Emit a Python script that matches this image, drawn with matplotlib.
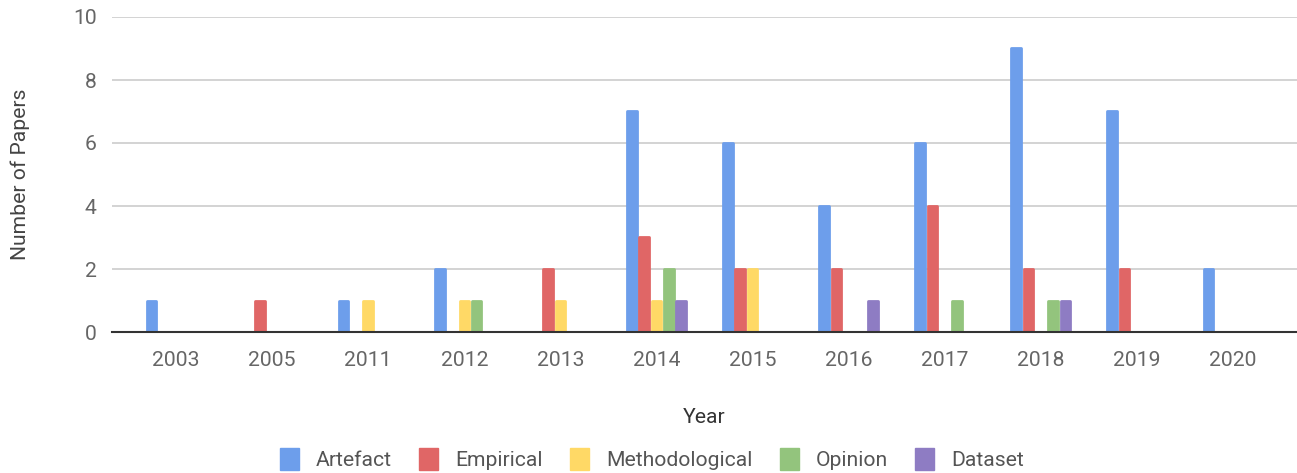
import matplotlib
matplotlib.use("Agg")
import matplotlib.pyplot as plt
import numpy as np
from matplotlib.patches import Patch

plt.rcParams['font.family'] = ['Roboto', 'DejaVu Sans']

years = ['2003', '2005', '2011', '2012', '2013', '2014', '2015', '2016', '2017', '2018', '2019', '2020']
series_names = ['Artefact', 'Empirical', 'Methodological', 'Opinion', 'Dataset']
artefact = [1, 0, 1, 2, 0, 7, 6, 4, 6, 9, 7, 2]
empirical = [0, 1, 0, 0, 2, 3, 2, 2, 4, 2, 2, 0]
methodological = [0, 0, 1, 1, 1, 1, 2, 0, 0, 0, 0, 0]
opinion = [0, 0, 0, 1, 0, 2, 0, 0, 1, 1, 0, 0]
dataset = [0, 0, 0, 0, 0, 1, 0, 1, 0, 1, 0, 0]
colors = ['#6d9eeb', '#e06666', '#ffd966', '#93c47d', '#8e7cc3']

series = [artefact, empirical, methodological, opinion, dataset]

fs = 15.2
fig = plt.figure(figsize=(12.97, 4.73), dpi=100)
ax = fig.add_axes([112/1297, 141/473, 1 - 112/1297, (332-17)/473])

x = np.arange(len(years))
step = 0.128
width = 0.100
for i, (vals, c) in enumerate(zip(series, colors)):
    offs = (i - 2) * step
    bars = ax.bar(x + offs, vals, width=width, color=c, edgecolor=c,
                  linewidth=2, joinstyle='round', zorder=3)
    for b, v in zip(bars, vals):
        if v == 0:
            b.set_visible(False)

ax.set_xlim(-0.667, len(years) - 1 + 0.667)
ax.set_ylim(0, 10)
ax.set_yticks([0, 2, 4, 6, 8, 10])
ax.set_xticks(x)
ax.set_xticklabels(years)
ax.grid(axis='y', color='#cccccc', linewidth=1.2, zorder=0)
ax.set_axisbelow(True)
for s in ['top', 'right', 'left']:
    ax.spines[s].set_visible(False)
ax.spines['bottom'].set_color('#333333')
ax.spines['bottom'].set_linewidth(1.5)
ax.spines['bottom'].set_zorder(4)
ax.tick_params(axis='both', length=0, labelsize=fs, labelcolor='#666666')
ax.tick_params(axis='y', pad=11)
ax.tick_params(axis='x', pad=14)

ax.set_ylabel('Number of Papers', fontsize=fs, color='#444444', labelpad=31)
ax.set_xlabel('Year', fontsize=fs, color='#333333', labelpad=27)

handles = [Patch(facecolor=c, edgecolor=c, label=n) for n, c in zip(series_names, colors)]
fig.legend(handles=handles, loc='center', bbox_to_anchor=(652/1297, 1 - 459/473),
           ncol=5, frameon=False, fontsize=fs, labelcolor='#555555',
           handlelength=0.9, handleheight=1.2, handletextpad=0.8, columnspacing=1.3)

fig.savefig('out.png', dpi=100)
